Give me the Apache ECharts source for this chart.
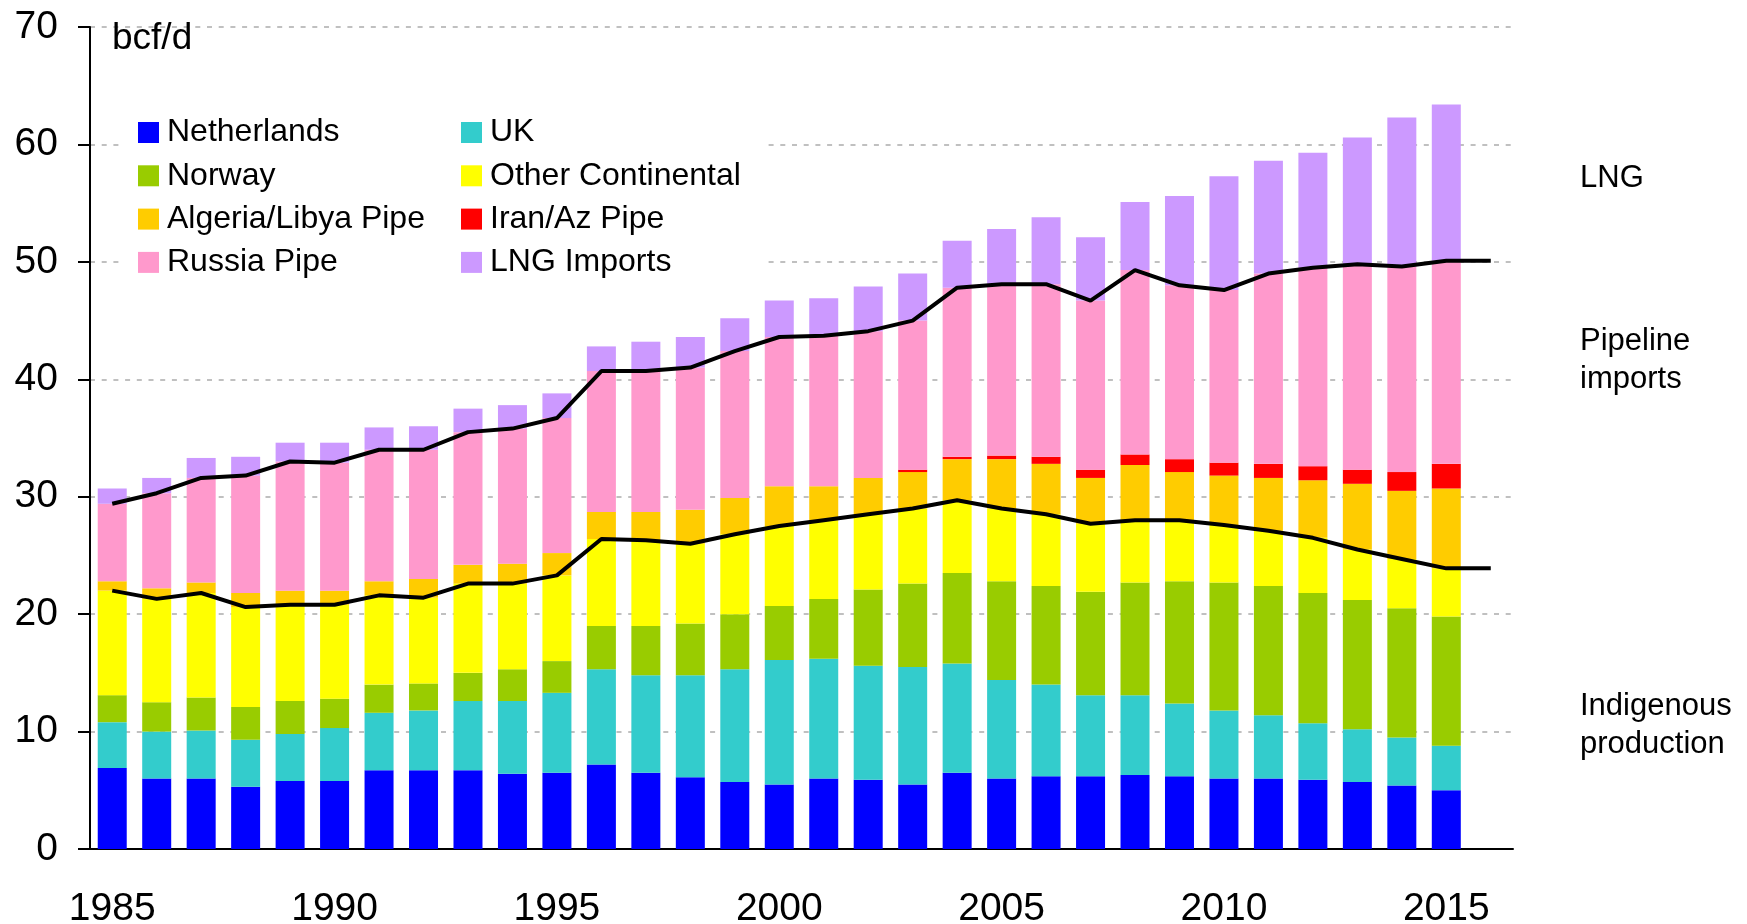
<!DOCTYPE html>
<html>
<head>
<meta charset="utf-8">
<script src="https://cdn.jsdelivr.net/npm/echarts@6.0.0/dist/echarts.min.js"></script>
<style>
  html, body { margin: 0; padding: 0; background: #fff; }
  #chart { width: 1747px; height: 924px; }
</style>
</head>
<body>
<div id="chart"></div>
<script>
// years on the axis (lines run one year past the bars)
const years = ['1985','1986','1987','1988','1989','1990','1991','1992','1993','1994',
  '1995','1996','1997','1998','1999','2000','2001','2002','2003','2004',
  '2005','2006','2007','2008','2009','2010','2011','2012','2013','2014','2015','2016']

// bcf/d, 1985-2015
const netherlands = [6.9,6.0,6.0,5.3,5.8,5.8,6.7,6.7,6.7,6.4,6.5,7.2,6.5,6.1,5.7,5.5,6.0,5.9,5.5,6.5,6.0,6.2,6.2,6.3,6.2,6.0,6.0,5.9,5.7,5.4,5.0]
const uk = [3.9,4.0,4.1,4.0,4.0,4.5,4.9,5.1,5.9,6.2,6.8,8.1,8.3,8.7,9.6,10.6,10.2,9.7,10.0,9.3,8.4,7.8,6.9,6.8,6.2,5.8,5.4,4.8,4.5,4.1,3.8]
const norway = [2.3,2.5,2.8,2.8,2.8,2.5,2.4,2.3,2.4,2.7,2.7,3.7,4.2,4.4,4.7,4.6,5.1,6.5,7.1,7.7,8.4,8.4,8.8,9.6,10.4,10.9,11.0,11.1,11.0,11.0,11.0]
const otherContinental = [8.9,8.8,8.9,8.5,8.2,8.0,7.6,7.3,7.6,7.3,7.3,7.4,7.3,6.8,6.8,6.8,6.7,6.4,6.4,6.2,6.2,6.1,5.8,5.3,5.2,4.9,4.7,4.7,4.3,4.2,4.1]
const algeriaLibya = [0.8,0.9,0.9,1.2,1.2,1.2,1.2,1.6,1.6,1.7,1.9,2.3,2.4,2.9,3.1,3.4,2.9,3.1,3.1,3.5,4.2,4.3,3.9,4.7,4.1,4.2,4.5,4.9,5.6,5.8,6.8]
const iranAz = [0,0,0,0,0,0,0,0,0,0,0,0,0,0,0,0,0,0,0.2,0.2,0.3,0.6,0.7,0.9,1.1,1.1,1.2,1.2,1.2,1.6,2.1]
const russia = [6.6,8.1,8.9,10.0,11.0,10.9,11.2,11.0,11.3,11.5,11.5,12.0,12.0,12.1,12.5,12.7,12.8,12.5,12.7,14.4,14.6,14.7,14.4,15.7,14.8,14.7,16.2,16.9,17.5,17.5,17.3]
const lng = [1.3,1.3,1.7,1.6,1.6,1.7,1.9,2.0,2.0,2.0,2.1,2.1,2.5,2.6,2.8,3.1,3.2,3.8,4.0,4.0,4.7,5.7,5.4,5.8,7.6,9.7,9.6,9.8,10.8,12.7,13.3]

// the two black lines, 1985-2016
const indigenousLine = [22.0,21.3,21.8,20.6,20.8,20.8,21.6,21.4,22.6,22.6,23.3,26.4,26.3,26.0,26.8,27.5,28.0,28.5,29.0,29.7,29.0,28.5,27.7,28.0,28.0,27.6,27.1,26.5,25.5,24.7,23.9,23.9]
const pipelineLine = [29.4,30.3,31.6,31.8,33.0,32.9,34.0,34.0,35.5,35.8,36.7,40.7,40.7,41.0,42.4,43.6,43.7,44.1,45.0,47.8,48.1,48.1,46.7,49.3,48.0,47.6,49.0,49.5,49.8,49.6,50.1,50.1]

const yTicks = { min: 0, max: 70, interval: 10 }

const font = "'Liberation Sans', Arial, sans-serif"

let myChart = echarts.init(document.getElementById('chart'))

function barSeries(name, data, color) {
  return {
    name: name,
    type: 'bar',
    stack: 'total',
    barWidth: 29,
    data: data,
    itemStyle: { color: color },
    emphasis: { disabled: true }
  }
}

function lineSeries(name, data) {
  return {
    name: name,
    type: 'line',
    data: data,
    symbol: 'none',
    z: 5,
    lineStyle: { color: '#000', width: 4 },
    emphasis: { disabled: true }
  }
}

const legendCommon = {
  orient: 'vertical',
  top: 116,
  padding: 0,
  itemWidth: 21,
  itemHeight: 21,
  itemGap: 10.3,
  icon: 'rect',
  selectedMode: false,
  textStyle: { fontFamily: font, fontSize: 32, lineHeight: 33, color: '#000', padding: [0, 0, 0, 3] }
}

const option = {
  animation: false,
  backgroundColor: '#fff',
  textStyle: { fontFamily: font },
  grid: { left: 90, right: 234, top: 27, bottom: 75, outerBoundsMode: 'none', containLabel: false },
  legend: [
    Object.assign({ left: 138, data: ['Netherlands', 'Norway', 'Algeria/Libya Pipe', 'Russia Pipe'] }, legendCommon),
    Object.assign({ left: 461, data: ['UK', 'Other Continental', 'Iran/Az Pipe', 'LNG Imports'] }, legendCommon)
  ],
  xAxis: {
    type: 'category',
    data: years,
    boundaryGap: true,
    axisLine: { lineStyle: { color: '#000', width: 2 } },
    axisTick: { show: false },
    axisLabel: {
      interval: (i) => i % 5 === 0,
      color: '#000',
      fontSize: 39,
      fontFamily: font,
      margin: 41
    }
  },
  yAxis: {
    type: 'value',
    min: yTicks.min,
    max: yTicks.max,
    interval: yTicks.interval,
    axisLine: { show: true, lineStyle: { color: '#000', width: 2 } },
    axisTick: { show: true, inside: false, length: 12, lineStyle: { color: '#000', width: 2 } },
    axisLabel: { color: '#000', fontSize: 39, fontFamily: font, margin: 32 },
    splitLine: {
      show: true,
      lineStyle: { color: '#c0c0c0', width: 2, type: [5, 6.7] }
    }
  },
  graphic: [
    // white box behind the legend hides the grid lines there
    { type: 'rect', z: 1, shape: { x: 120, y: 60, width: 645, height: 240 }, style: { fill: '#fff' } },
    { type: 'text', z: 10, x: 112, y: 39, style: { text: 'bcf/d', font: '37px ' + font, fill: '#000', verticalAlign: 'middle' } },
    { type: 'text', z: 10, x: 1580, y: 178, style: { text: 'LNG', font: '31px ' + font, fill: '#000', verticalAlign: 'middle' } },
    { type: 'text', z: 10, x: 1580, y: 360, style: { text: 'Pipeline\nimports', font: '31px ' + font, lineHeight: 38, fill: '#000', verticalAlign: 'middle' } },
    { type: 'text', z: 10, x: 1580, y: 725, style: { text: 'Indigenous\nproduction', font: '31px ' + font, lineHeight: 38, fill: '#000', verticalAlign: 'middle' } }
  ],
  series: [
    barSeries('Netherlands', netherlands, '#0000FF'),
    barSeries('UK', uk, '#33CCCC'),
    barSeries('Norway', norway, '#99CC00'),
    barSeries('Other Continental', otherContinental, '#FFFF00'),
    barSeries('Algeria/Libya Pipe', algeriaLibya, '#FFCC00'),
    barSeries('Iran/Az Pipe', iranAz, '#FF0000'),
    barSeries('Russia Pipe', russia, '#FF99CC'),
    barSeries('LNG Imports', lng, '#CC99FF'),
    lineSeries('Indigenous', indigenousLine),
    lineSeries('Pipeline', pipelineLine)
  ]
}

myChart.setOption(option)
</script>
</body>
</html>
